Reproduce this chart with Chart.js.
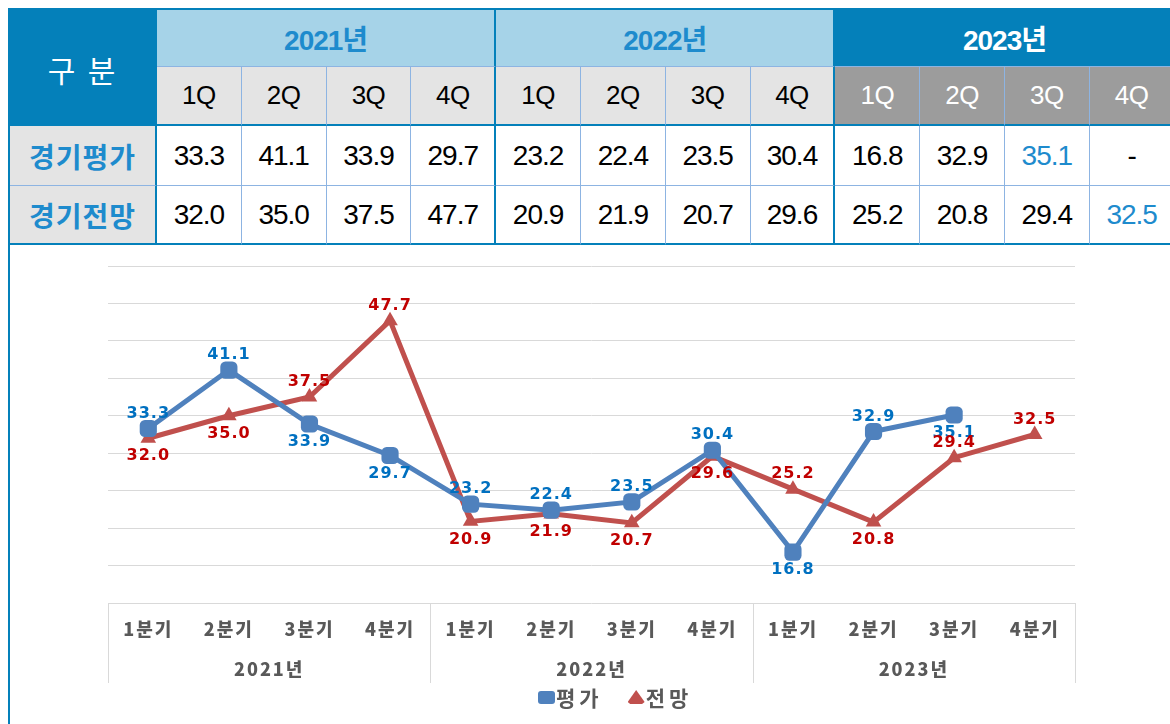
<!DOCTYPE html>
<html lang="ko">
<head>
<meta charset="utf-8">
<script src="https://cdn.jsdelivr.net/npm/chart.js@4.4.0/dist/chart.umd.min.js"></script>
<style>
    html, body { margin: 0; padding: 0; background: #fff; width: 1170px; height: 724px; overflow: hidden; }
    #frame { position: absolute; left: 8px; top: 8px; width: 1200px; height: 760px; border-left: 2px solid #0480BA; border-top: 2px solid #0480BA; }
    #tbl { position: absolute; left: 0; top: 0; display: grid; grid-template-columns: 147px repeat(12, 84.8px); grid-template-rows: 57px 59px 60px 59px; }
    #tbl div { box-sizing: border-box; display: flex; align-items: center; justify-content: center;
        border-right: 1px solid #8DB4E2; border-bottom: 1px solid #8DB4E2;
        font-family: "Liberation Sans", "Noto Sans CJK KR", sans-serif; font-size: 28px; letter-spacing: -1px; color: #000; background: #fff; }
    #tbl .corner { grid-row: span 2; background: #0480BA; color: #fff; font-family: "Noto Sans CJK KR"; font-size: 30px; letter-spacing: 2px; white-space: pre; padding-top: 4px; border-right: 2px solid #0480BA; border-bottom: 2px solid #0480BA; }
    #tbl .year { grid-column: span 4; background: #A6D3E8; color: #1E8BCD; font-weight: bold; }
    #tbl .year.cur { background: #0480BA; color: #fff; }
    #tbl .q { background: #E4E4E4; font-size: 26px; letter-spacing: -0.5px; border-bottom: 2px solid #0480BA; }
    #tbl .q.cur { background: #9C9C9C; color: #fff; }
    #tbl .name { background: #E4E4E4; color: #1E8BCD; font-family: "Noto Sans CJK KR"; font-weight: bold; letter-spacing: 1px; border-right: 2px solid #0480BA; }
    #tbl .last { border-bottom: 2px solid #0480BA; }
    #tbl .grp { border-right: 2px solid #0480BA; }
    #tbl .hi { color: #1E8BCD; }
    #chartBox { position: absolute; left: 10px; top: 247px; width: 1160px; height: 436px; }
    #legend { position: absolute; left: 538px; top: 685px; display: flex; align-items: center; height: 24px;
        font-family: "Noto Sans CJK KR"; font-weight: bold; font-size: 21px; letter-spacing: 4px; color: #595959; }
    #legend .item { display: flex; align-items: center; margin-right: 25px; }
    #legend .mk { display: inline-block; width: 17px; height: 13px; margin-right: 1px; }
    #legend .rectRounded { border-radius: 3px; }
    #legend .triangle { height: 14px; clip-path: polygon(50% 0, 100% 85%, 85% 100%, 15% 100%, 0 85%); }
</style>
</head>
<body>
<div id="frame"><div id="tbl"></div></div>
<div id="chartBox"><canvas id="grafico"></canvas></div>
<div id="legend"></div>
<script>
// --- dados ---
const years = ['2021년', '2022년', '2023년'];
const quarters = ['1Q', '2Q', '3Q', '4Q'];
const quarterTicks = ['1분기', '2분기', '3분기', '4분기'];
const rowNames = ['경기평가', '경기전망'];
const seriesNames = ['평가', '전망'];
const evalValues = [33.3, 41.1, 33.9, 29.7, 23.2, 22.4, 23.5, 30.4, 16.8, 32.9, 35.1, null];
const outlookValues = [32.0, 35.0, 37.5, 47.7, 20.9, 21.9, 20.7, 29.6, 25.2, 20.8, 29.4, 32.5];

const categories = years.flatMap(() => quarterTicks);

// rótulo acima (-1) ou abaixo (1) do ponto
const evalSide = [-1, -1, 1, 1, -1, -1, -1, -1, 1, -1, 1, -1];
const outlookSide = [1, 1, -1, -1, 1, 1, 1, 1, -1, 1, -1, -1];

// --- tabela ---
const tbl = document.getElementById('tbl');
function cell(text, cls) {
    const d = document.createElement('div');
    d.className = cls;
    d.textContent = text;
    tbl.appendChild(d);
}
cell('구 분', 'corner');
years.forEach((y, i) => cell(y, 'year' + (i === years.length - 1 ? ' cur' : ' grp')));
years.forEach((y, i) => quarters.forEach((q, j) => {
    let cls = 'q';
    if (i === years.length - 1) cls += ' cur';
    if (j === 3 && i < years.length - 1) cls += ' grp';
    cell(q, cls);
}));
[evalValues, outlookValues].forEach((vals, r) => {
    const lastCls = r === 1 ? ' last' : '';
    cell(rowNames[r], 'name' + lastCls);
    let lastIdx = -1;
    vals.forEach((v, k) => { if (v != null) lastIdx = k; });
    vals.forEach((v, k) => {
        let cls = 'val' + lastCls;
        if (k % 4 === 3 && k < vals.length - 1) cls += ' grp';
        if (k === lastIdx) cls += ' hi';
        cell(v == null ? '-' : v.toFixed(1), cls);
    });
});

// --- plugins ---
const valueLabels = {
    id: 'valueLabels',
    afterDatasetsDraw(chart, args, opts) {
        const ctx = chart.ctx;
        ctx.save();
        ctx.font = 'bold 16px "DejaVu Sans"';
        ctx.textAlign = 'center';
        ctx.textBaseline = 'middle';
        ctx.letterSpacing = '1px';
        chart.data.datasets.forEach((ds, i) => {
            const meta = chart.getDatasetMeta(i);
            meta.data.forEach((pt, j) => {
                const v = ds.data[j];
                if (v == null) return;
                const side = opts.sides[i][j];
                ctx.fillStyle = opts.colors[i];
                ctx.fillText(v.toFixed(1), pt.x, pt.y + (side < 0 ? -15 : 18));
            });
        });
        ctx.restore();
    }
};

const groupLines = {
    id: 'groupLines',
    beforeDraw(chart) { chart.ctx.letterSpacing = '2px'; },
    afterDraw(chart) {
        const ctx = chart.ctx;
        const x = chart.scales.x;
        const x2 = chart.scales.x2;
        const area = chart.chartArea;
        ctx.save();
        ctx.letterSpacing = '0px';
        ctx.strokeStyle = '#D9D9D9';
        ctx.lineWidth = 1;
        const edges = [area.left, area.right];
        for (let k = 4; k < categories.length; k += 4) {
            edges.push((x.getPixelForValue(k - 1) + x.getPixelForValue(k)) / 2);
        }
        edges.forEach(px => {
            ctx.beginPath();
            ctx.moveTo(Math.round(px) + 0.5, area.bottom);
            ctx.lineTo(Math.round(px) + 0.5, x2.bottom);
            ctx.stroke();
        });
        ctx.restore();
    }
};

const htmlLegend = {
    id: 'htmlLegend',
    afterUpdate(chart) {
        const box = document.getElementById('legend');
        box.innerHTML = '';
        chart.options.plugins.legend.labels.generateLabels(chart).forEach(item => {
            const el = document.createElement('span');
            el.className = 'item';
            const mk = document.createElement('span');
            mk.className = 'mk ' + item.pointStyle;
            mk.style.background = item.fillStyle;
            el.appendChild(mk);
            el.appendChild(document.createTextNode(item.text));
            box.appendChild(el);
        });
    }
};

const tickFont = { family: '"Noto Sans CJK KR"', size: 18, weight: 900 };

// --- gráfico ---
const ctx = document.getElementById('grafico').getContext('2d');
new Chart(ctx, {
    type: 'line',
    data: {
        labels: categories,
        datasets: [{
            label: seriesNames[0],
            data: evalValues,
            borderColor: '#4F81BD',
            backgroundColor: '#4F81BD',
            pointBackgroundColor: '#4F81BD',
            pointBorderWidth: 0,
            pointStyle: 'rectRounded',
            pointRadius: 10,
            borderWidth: 5,
            tension: 0
        }, {
            label: seriesNames[1],
            data: outlookValues,
            borderColor: '#C0504D',
            backgroundColor: '#C0504D',
            pointBackgroundColor: '#C0504D',
            pointBorderWidth: 0,
            pointStyle: 'triangle',
            pointRadius: 9,
            borderWidth: 5,
            tension: 0
        }]
    },
    options: {
        responsive: true,
        maintainAspectRatio: false,
        animation: false,
        layout: { padding: { left: 98, right: 95, top: 19, bottom: 0 } },
        plugins: {
            legend: { display: false, labels: { usePointStyle: true } },
            tooltip: { enabled: false },
            valueLabels: {
                sides: [evalSide, outlookSide],
                colors: ['#0070C0', '#C00000']
            }
        },
        scales: {
            x: {
                offset: true,
                grid: { display: false },
                border: { display: false },
                ticks: {
                    autoSkip: false, maxRotation: 0, padding: 7,
                    color: '#595959',
                    font: tickFont
                },
                afterFit(s) { s.height = 47; }
            },
            x2: {
                type: 'category',
                labels: years,
                position: 'bottom',
                offset: true,
                grid: { display: false },
                border: { display: false },
                ticks: {
                    padding: 0,
                    color: '#595959',
                    font: tickFont
                },
                afterFit(s) { s.height = 33; }
            },
            y: {
                min: 10,
                max: 55,
                ticks: { stepSize: 5, display: false },
                grid: { color: '#D9D9D9', lineWidth: 1, drawTicks: false },
                border: { display: false },
                afterFit(s) { s.width = 0; }
            }
        }
    },
    plugins: [valueLabels, groupLines, htmlLegend]
});
</script>
</body>
</html>
